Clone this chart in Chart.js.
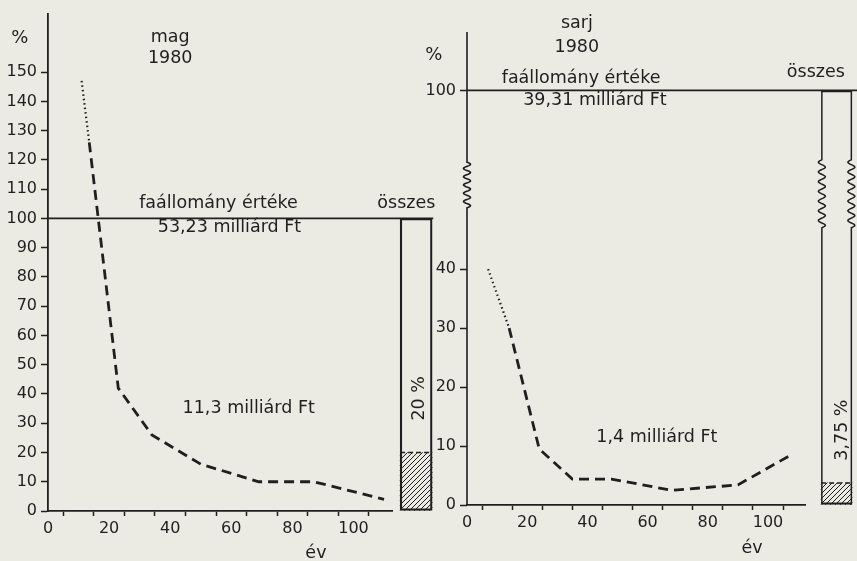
<!DOCTYPE html>
<html>
<head>
<meta charset="UTF-8">
<title>faállomány értéke – mag / sarj 1980</title>
<script src="https://cdn.jsdelivr.net/npm/chart.js"></script>
<style>
  body { margin: 0; background: #ebeae3; }
  #wrap { position: relative; width: 857px; height: 561px; background: #ebeae3; overflow: hidden; }
  canvas { position: absolute; top: 0; }
  #mag { left: 0; }
  #sarj { left: 415px; }
</style>
</head>
<body>
<div id="wrap">
  <canvas id="mag" width="445" height="561"></canvas>
  <canvas id="sarj" width="442" height="561"></canvas>
</div>
<script>
// mag 1980 - % of value vs age (év); first two points are the dotted part
const magYears   = [11, 13.5, 23, 34, 50, 69, 87, 110];
const magPercent = [147, 126, 42, 26, 16, 10, 10, 4];
const magShare   = 20;      // hatched part of the "összes" bar, %

// sarj 1980
const sarjYears   = [7, 14, 24, 35, 48, 68, 90, 108];
const sarjPercent = [40, 30, 9.5, 4.4, 4.4, 2.5, 3.4, 8.6];
const sarjShare   = 3.75;

const dottedPoints = 2;
const totalLevel   = 100;
const magYTicks    = [0, 10, 20, 30, 40, 50, 60, 70, 80, 90, 100, 110, 120, 130, 140, 150];
const sarjYTicks   = [0, 10, 20, 30, 40, 100];
const xTickMarks   = [0, 10, 20, 30, 40, 50, 60, 70, 80, 90, 100, 110];
const xTickLabels  = [0, 20, 40, 60, 80, 100];

const INK = '#1f1f1f';
Chart.defaults.font.family = '"DejaVu Sans", sans-serif';
Chart.defaults.font.size = 16;
Chart.defaults.color = INK;

// axis break for the sarj chart: values above 50 are squeezed
function brk(v) { return v <= 50 ? v : 50 + (v - 50) * 0.406; }
function unbrk(d) { return d <= 50 ? d : 50 + (d - 50) / 0.406; }

class BrokenScale extends Chart.LinearScale {
  static id = 'broken';
  static defaults = Chart.LinearScale.defaults;
  getPixelForValue(v) { return super.getPixelForValue(brk(v)); }
  getValueForPixel(p) { return unbrk(super.getValueForPixel(p)); }
}
Chart.register(BrokenScale);

function pts(xs, ys, from, to) {
  const out = [];
  for (let i = from; i < to; i++) out.push({x: xs[i], y: ys[i]});
  return out;
}

function hatch(canvas) {
  const p = document.createElement('canvas');
  p.width = p.height = 5;
  const c = p.getContext('2d');
  c.strokeStyle = INK;
  c.lineWidth = 1;
  c.beginPath();
  c.moveTo(0, 5); c.lineTo(5, 0);
  c.moveTo(-1, 1); c.lineTo(1, -1);
  c.moveTo(4, 6); c.lineTo(6, 4);
  c.stroke();
  return canvas.getContext('2d').createPattern(p, 'repeat');
}

function wiggle(ctx, x, yFrom, yTo, amp, n) {
  const steps = 80;
  for (let i = 0; i <= steps; i++) {
    const t = i / steps;
    ctx.lineTo(x + amp * Math.sin(t * n * 2 * Math.PI), yFrom + (yTo - yFrom) * t);
  }
}

// free text placed at data coordinates (+ pixel offset)
const notes = {
  id: 'notes',
  afterDraw(chart, args, opts) {
    const {ctx, scales: {x, y}} = chart;
    ctx.save();
    ctx.fillStyle = INK;
    ctx.textAlign = 'center';
    ctx.textBaseline = 'middle';
    for (const n of opts.items) {
      ctx.font = (n.size || 17.5) + 'px "DejaVu Sans", sans-serif';
      ctx.save();
      ctx.translate(x.getPixelForValue(n.x), y.getPixelForValue(n.y) + (n.dy || 0));
      if (n.rot) ctx.rotate(n.rot);
      ctx.fillText(n.text, 0, 0);
      ctx.restore();
    }
    ctx.restore();
  }
};

// dashed top edge of the hatched share, and the wavy breaks
const extras = {
  id: 'extras',
  afterDatasetsDraw(chart, args, opts) {
    const {ctx, chartArea, scales: {y}} = chart;
    ctx.save();
    ctx.strokeStyle = INK;
    ctx.lineWidth = 1.5;

    const share = chart.getDatasetMeta(opts.shareIndex).data[0];
    ctx.setLineDash([5, 3]);
    ctx.beginPath();
    ctx.moveTo(share.x - share.width / 2, share.y);
    ctx.lineTo(share.x + share.width / 2, share.y);
    ctx.stroke();
    ctx.setLineDash([]);

    if (opts.axisBreak) {
      const ax = chartArea.left;
      const b0 = y.getPixelForValue(opts.axisBreak[0]);
      const b1 = y.getPixelForValue(opts.axisBreak[1]);
      ctx.lineWidth = 1.6;
      ctx.beginPath();
      ctx.moveTo(ax, chartArea.bottom);
      ctx.lineTo(ax, b0);
      wiggle(ctx, ax, b0, b1, 3.5, 5.5);
      ctx.lineTo(ax, chartArea.top);
      ctx.stroke();

      const bar = chart.getDatasetMeta(opts.barIndex).data[0];
      const w0 = y.getPixelForValue(opts.barBreak[0]);
      const w1 = y.getPixelForValue(opts.barBreak[1]);
      ctx.lineWidth = 1.5;
      for (const sx of [bar.x - bar.width / 2 + 0.75, bar.x + bar.width / 2 - 0.75]) {
        ctx.beginPath();
        ctx.moveTo(sx, bar.base);
        ctx.lineTo(sx, w0);
        wiggle(ctx, sx, w0, w1, 3.5, 7);
        ctx.lineTo(sx, bar.y);
        ctx.stroke();
      }
    }
    ctx.restore();
  }
};

function xAxis(max, height) {
  return {
    type: 'linear', min: 0, max: max, offset: false,
    afterFit: s => { s.height = height; },
    afterBuildTicks: s => { s.ticks = xTickMarks.map(v => ({value: v})); },
    ticks: {
      padding: 3, maxRotation: 0, autoSkip: false,
      callback: v => xTickLabels.includes(v) ? String(v) : ''
    },
    grid: {drawOnChartArea: false, color: INK, tickLength: 5, tickWidth: 1.5},
    border: {color: INK, width: 1.8}
  };
}

function lineSets(xs, ys) {
  return [
    {type: 'line', data: pts(xs, ys, 0, dottedPoints), borderColor: INK, borderWidth: 2.2,
     borderDash: [1.5, 3], pointRadius: 0, tension: 0},
    {type: 'line', data: pts(xs, ys, dottedPoints - 1, xs.length), borderColor: INK, borderWidth: 2.8,
     borderDash: [10, 6], pointRadius: 0, tension: 0}
  ];
}

// ---------- mag ----------
const magCanvas = document.getElementById('mag');
new Chart(magCanvas, {
  type: 'line',
  data: {
    datasets: [
      ...lineSets(magYears, magPercent),
      {type: 'line', data: [{x: 0, y: totalLevel}, {x: 126.1, y: totalLevel}], borderColor: INK,
       borderWidth: 1.8, pointRadius: 0, clip: false},
      {type: 'bar', data: [{x: 120.5, y: [0, magShare]}], backgroundColor: hatch(magCanvas),
       borderWidth: 0, barThickness: 32, grouped: false, clip: false},
      {type: 'bar', data: [{x: 120.5, y: [0, totalLevel]}], backgroundColor: 'rgba(0,0,0,0)',
       borderColor: INK, borderWidth: 1.6, borderSkipped: false, barThickness: 32, grouped: false, clip: false}
    ]
  },
  options: {
    responsive: false, animation: false,
    layout: {padding: {top: 8, right: 53, left: 0, bottom: 0}},
    scales: {
      x: xAxis(112.6, 50),
      y: {
        type: 'linear', min: 0, max: 170,
        afterFit: s => { s.width = 48; },
        afterBuildTicks: s => { s.ticks = magYTicks.map(v => ({value: v})); },
        ticks: {padding: 4},
        grid: {drawOnChartArea: false, color: INK, tickLength: 7, tickWidth: 1.5},
        border: {color: INK, width: 1.8}
      }
    },
    plugins: {
      legend: {display: false},
      tooltip: {enabled: false},
      extras: {shareIndex: 3},
      notes: {items: [
        {text: '%', x: -9.2, y: 150, dy: -34, size: 18},
        {text: 'mag', x: 40, y: 150, dy: -35},
        {text: '1980', x: 40, y: 150, dy: -14},
        {text: 'faállomány értéke', x: 55.8, y: totalLevel, dy: -15},
        {text: '53,23 milliárd Ft', x: 59.4, y: totalLevel, dy: 9},
        {text: 'összes', x: 117.3, y: totalLevel, dy: -15},
        {text: '11,3 milliárd Ft', x: 65.7, y: 35},
        {text: magShare + ' %', x: 121.5, y: 38.5, rot: -Math.PI / 2},
        {text: 'év', x: 87.7, y: 0, dy: 42}
      ]}
    }
  },
  plugins: [notes, extras]
});

// ---------- sarj ----------
const sarjCanvas = document.getElementById('sarj');
new Chart(sarjCanvas, {
  type: 'line',
  data: {
    datasets: [
      ...lineSets(sarjYears, sarjPercent),
      {type: 'line', data: [{x: 0, y: totalLevel}, {x: 140, y: totalLevel}], borderColor: INK,
       borderWidth: 1.8, pointRadius: 0, clip: false},
      {type: 'bar', data: [{x: 122.8, y: [0, sarjShare]}], backgroundColor: hatch(sarjCanvas),
       borderWidth: 0, barThickness: 31, grouped: false, clip: false},
      {type: 'bar', data: [{x: 122.8, y: [0, totalLevel]}], backgroundColor: 'rgba(0,0,0,0)',
       borderColor: INK, borderWidth: {top: 1.6, bottom: 1.6, left: 0, right: 0},
       borderSkipped: false, barThickness: 31, grouped: false, clip: false}
    ]
  },
  options: {
    responsive: false, animation: false,
    layout: {padding: {top: 32, right: 52, left: 0, bottom: 0}},
    scales: {
      x: xAxis(112.3, 56),
      y: {
        type: 'broken', min: 0, max: 80.2,
        afterFit: s => { s.width = 52; },
        afterBuildTicks: s => { s.ticks = sarjYTicks.map(v => ({value: v})); },
        ticks: {padding: 4, callback: v => String(v)},
        grid: {drawOnChartArea: false, color: INK, tickLength: 7, tickWidth: 1.5},
        border: {display: false}
      }
    },
    plugins: {
      legend: {display: false},
      tooltip: {enabled: false},
      extras: {shareIndex: 3, barIndex: 4, axisBreak: [51, 70], barBreak: [47, 71]},
      notes: {items: [
        {text: '%', x: -11, y: totalLevel, dy: -35, size: 18},
        {text: 'sarj', x: 36.5, y: totalLevel, dy: -67},
        {text: '1980', x: 36.5, y: totalLevel, dy: -43},
        {text: 'faállomány értéke', x: 37.9, y: totalLevel, dy: -12},
        {text: '39,31 milliárd Ft', x: 42.5, y: totalLevel, dy: 10},
        {text: 'összes', x: 115.9, y: totalLevel, dy: -18},
        {text: '1,4 milliárd Ft', x: 63.1, y: 11.5},
        {text: '3,75 %', x: 124.6, y: 12.7, rot: -Math.PI / 2},
        {text: 'év', x: 94.7, y: 0, dy: 43}
      ]}
    }
  },
  plugins: [notes, extras]
});
</script>
</body>
</html>
